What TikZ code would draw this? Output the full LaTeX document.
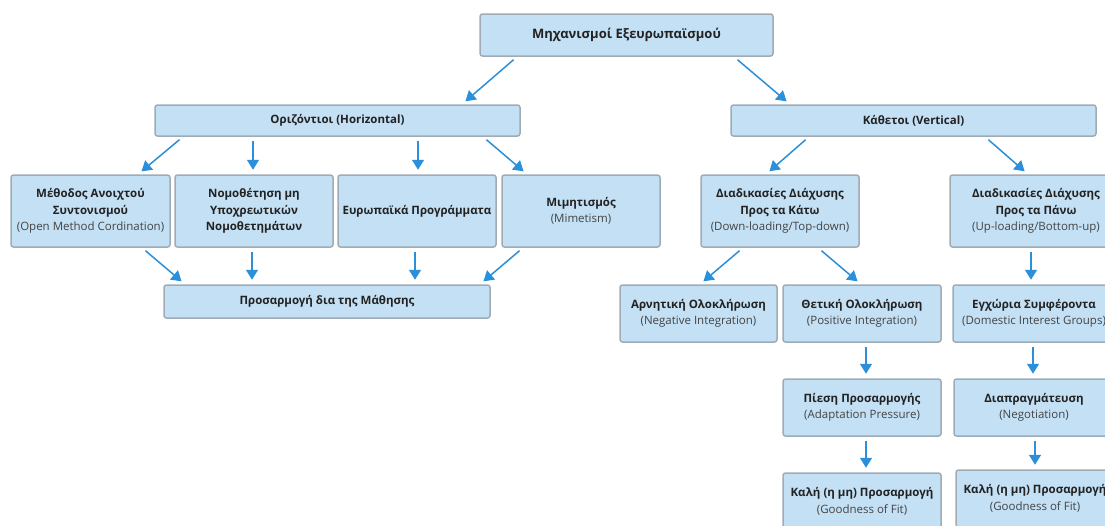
\documentclass[tikz,border=0pt]{standalone}
\usepackage{fontspec}
\setmainfont{Open Sans}
\usetikzlibrary{arrows.meta,calc}
\definecolor{boxfill}{HTML}{C3E0F4}
\definecolor{boxline}{HTML}{A0ABB5}
\definecolor{arrcol}{HTML}{2B8FD9}
\definecolor{txtdark}{HTML}{222222}
\definecolor{txtsub}{HTML}{444444}
\tikzset{
  box/.style={draw=boxline, fill=boxfill, line width=1.5pt, rounded corners=2.5pt,
    inner sep=0pt, align=center, text=txtdark,
    font=\fontsize{11.5}{16.5}\selectfont},
  boldbox/.style={box, font=\fontsize{11.5}{16.5}\selectfont\bfseries},
  arr/.style={draw=arrcol, line width=1.5pt,
    -{Triangle[width=12pt,length=10pt]}, shorten <=4.5pt, shorten >=4.5pt}
}
\newcommand\subt[1]{{\color{txtsub}\mdseries #1}}
\begin{document}
\begin{tikzpicture}[x=1pt,y=-1pt]
\useasboundingbox (0,0) rectangle (1105,525);
\clip (0,0) rectangle (1105,525);
% nodes
\node[box, minimum width=293pt, minimum height=42pt, font=\fontsize{13}{16}\selectfont\bfseries] (top) at (626.5,35) {Μηχανισμοί Εξευρωπαϊσμού};
\node[boldbox, minimum width=365pt, minimum height=31pt] (horiz) at (337.5,120.5) {Οριζόντιοι (Horizontal)};
\node[boldbox, minimum width=365pt, minimum height=31pt] (vert) at (913.5,120.5) {Κάθετοι (Vertical)};
\node[box, minimum width=159pt, minimum height=72pt] (meth) at (90.5,211) {\textbf{Μέθοδος Ανοιχτού}\\\textbf{Συντονισμού}\\\subt{(Open Method Cordination)}};
\node[boldbox, minimum width=158pt, minimum height=72pt] (nomo) at (254,211) {Νομοθέτηση μη\\Υποχρεωτικών\\Νομοθετημάτων};
\node[boldbox, minimum width=158pt, minimum height=72pt] (eur) at (417,211) {Ευρωπαϊκά Προγράμματα};
\node[box, minimum width=158pt, minimum height=72pt] (mim) at (581,211) {\textbf{Μιμητισμός}\\\subt{(Mimetism)}};
\node[boldbox, minimum width=326pt, minimum height=33pt] (pros) at (327,301.5) {Προσαρμογή δια της Μάθησης};
\node[box, minimum width=158pt, minimum height=72pt] (down) at (780,211) {\textbf{Διαδικασίες Διάχυσης}\\\textbf{Προς τα Κάτω}\\\subt{(Down-loading/Top-down)}};
\node[box, minimum width=172pt, minimum height=72pt] (up) at (1036,211) {\textbf{Διαδικασίες Διάχυσης}\\\textbf{Προς τα Πάνω}\\\subt{(Up-loading/Bottom-up)}};
\node[box, minimum width=157pt, minimum height=57pt] (neg) at (698.5,313.5) {\textbf{Αρνητική Ολοκλήρωση}\\\subt{(Negative Integration)}};
\node[box, minimum width=158pt, minimum height=57pt] (pos) at (862,313.5) {\textbf{Θετική Ολοκλήρωση}\\\subt{(Positive Integration)}};
\node[box, minimum width=162pt, minimum height=57pt] (dom) at (1034,313.5) {\textbf{Εγχώρια Συμφέροντα}\\\subt{(Domestic Interest Groups)}};
\node[box, minimum width=158pt, minimum height=57pt] (pie) at (862,407.5) {\textbf{Πίεση Προσαρμογής}\\\subt{(Adaptation Pressure)}};
\node[box, minimum width=160pt, minimum height=57pt] (dia) at (1034,407.5) {\textbf{Διαπραγμάτευση}\\\subt{(Negotiation)}};
\node[box, minimum width=158pt, minimum height=57pt] (fitL) at (862,501.5) {\textbf{Καλή (η μη) Προσαρμογή}\\\subt{(Goodness of Fit)}};
\node[box, minimum width=158pt, minimum height=57pt] (fitR) at (1035,498.5) {\textbf{Καλή (η μη) Προσαρμογή}\\\subt{(Goodness of Fit)}};
% arrows
\draw[arr] ([xshift=-109.5pt]top.south) -- ([xshift=124.5pt]horiz.north);
\draw[arr] ([xshift=107.5pt]top.south) -- ([xshift=-123.5pt]vert.north);
\draw[arr] ([xshift=-154.5pt]horiz.south) -- ([xshift=47.5pt]meth.north);
\draw[arr] ([xshift=-84.5pt]horiz.south) -- ([xshift=-1pt]nomo.north);
\draw[arr] ([xshift=80.5pt]horiz.south) -- ([xshift=1pt]eur.north);
\draw[arr] ([xshift=145.5pt]horiz.south) -- ([xshift=-54pt]mim.north);
\draw[arr] ([xshift=51.5pt]meth.south) -- ([xshift=-142pt]pros.north);
\draw[arr] ([xshift=-2pt]nomo.south) -- ([xshift=-75pt]pros.north);
\draw[arr] ([xshift=-2pt]eur.south) -- ([xshift=88pt]pros.north);
\draw[arr] ([xshift=-58pt]mim.south) -- ([xshift=153pt]pros.north);
\draw[arr] ([xshift=-104.5pt]vert.south) -- ([xshift=-14pt]down.north);
\draw[arr] ([xshift=71.5pt]vert.south) -- ([xshift=-8pt]up.north);
\draw[arr] ([xshift=-37pt]down.south) -- ([xshift=1.5pt]neg.north);
\draw[arr] ([xshift=38pt]down.south) -- ([xshift=-1pt]pos.north);
\draw[arr] ([xshift=-5pt]up.south) -- ([xshift=-3pt]dom.north);
\draw[arr] ([xshift=4pt]pos.south) -- ([xshift=4pt]pie.north);
\draw[arr] ([xshift=-1pt]dom.south) -- ([xshift=-1pt]dia.north);
\draw[arr] ([xshift=4pt]pie.south) -- ([xshift=4pt]fitL.north);
\draw[arr] ([xshift=1pt]dia.south) -- ([xshift=0pt]fitR.north);
\end{tikzpicture}
\end{document}
